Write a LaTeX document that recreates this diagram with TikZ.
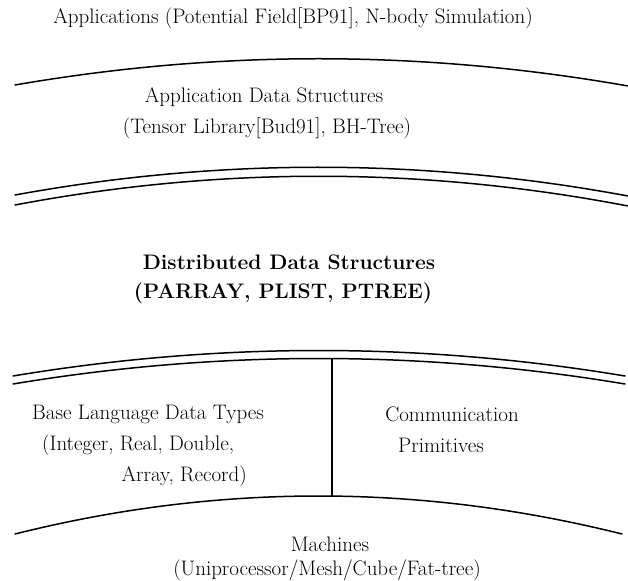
\documentclass[tikz,border=0pt]{standalone}
\usepackage{tikz}
\usetikzlibrary{calc}
\tikzset{
  layerline/.style={line width=1.5pt, line cap=round},
  divider/.style={line width=1.3pt},
  lbl/.style={inner sep=0pt, font=\fontsize{21}{25}\selectfont},
  boldlbl/.style={inner sep=0pt, font=\fontsize{21}{25}\selectfont\bfseries},
}
% \bow{start}{peak control}{end}: a quadratic arch written as a cubic
\newcommand\bow[3]{%
  \draw[layerline] (#1) .. controls ($(#1)!2/3!(#2)$) and ($(#3)!2/3!(#2)$) .. (#3);}
\begin{document}
\begin{tikzpicture}[x=1pt,y=-1pt]
  \useasboundingbox (0,0) rectangle (628,580);

  % layer boundaries (control point y = 2*peak - end)
  \coordinate (t1) at (15,85);   \coordinate (t2) at (628,86);  \coordinate (tq) at (321,32);
  \bow{t1}{tq}{t2}

  \coordinate (a1) at (15,195);  \coordinate (a2) at (628,196); \coordinate (aq) at (321,139);
  \coordinate (b1) at (15,205);  \coordinate (b2) at (628,206); \coordinate (bq) at (321,147);
  \bow{a1}{aq}{a2}
  \bow{b1}{bq}{b2}

  \coordinate (c1) at (13,376);  \coordinate (c2) at (625,376); \coordinate (cq) at (319,325);
  \coordinate (d1) at (13,384);  \coordinate (d2) at (625,384); \coordinate (dq) at (319,333);
  \bow{c1}{cq}{c2}
  \bow{d1}{dq}{d2}

  \coordinate (e1) at (15,534);  \coordinate (e2) at (622,534); \coordinate (eq) at (318,458);
  \bow{e1}{eq}{e2}

  % split between base types and communication
  \coordinate (vtop) at (332,358.5);
  \coordinate (vbot) at (332,496);
  \draw[divider] (vtop) -- (vbot);

  % labels
  \node[lbl] (apps) at (293,18) {Applications (Potential Field[BP91], N-body Simulation)};
  \node[lbl] (ads) at (264,97) {Application Data Structures};
  \node[lbl] (ads2) at (267,128) {(Tensor Library[Bud91], BH-Tree)};
  \node[boldlbl] (dds) at (289,262) {Distributed Data Structures};
  \node[boldlbl] (dds2) at (283,293) {(PARRAY, PLIST, PTREE)};
  \node[lbl] (base) at (148,414) {Base Language Data Types};
  \node[lbl, anchor=west] (base2) at (42,445) {(Integer, Real, Double,};
  \node[lbl, anchor=east] (base3) at (247,476) {Array, Record)};
  \node[lbl] (comm) at (452,414) {Communication};
  \node[lbl] (comm2) at (441,445) {Primitives};
  \node[lbl] (mach) at (330,544) {Machines};
  \node[lbl] (mach2) at (327,570) {(Uniprocessor/Mesh/Cube/Fat-tree)};
\end{tikzpicture}
\end{document}
